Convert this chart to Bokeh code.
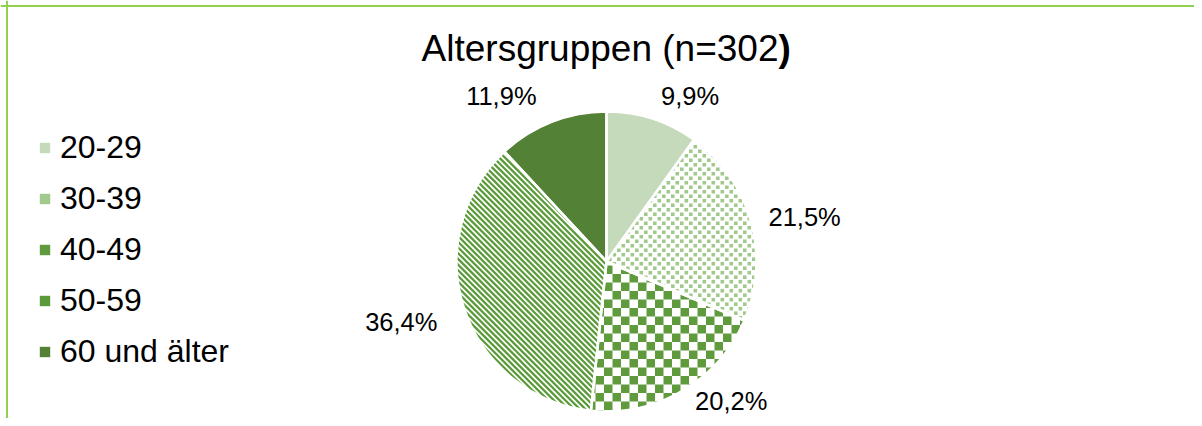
import math
from bokeh.plotting import figure
from bokeh.models import Range1d, Legend, LegendItem, Span, ColumnDataSource
from bokeh.core.properties import value
from bokeh.embed import file_html
from bokeh.resources import INLINE

# ---- data ----
title_main = "Altersgruppen (n=302"
title_close = ")"
categories = ["20-29", "30-39", "40-49", "50-59", "60 und älter"]
shares = [9.9, 21.5, 20.2, 36.4, 11.9]

# ---- styles / layout ----
W, H = 1194, 418
FONT = "Liberation Sans"
base_fill = ["#C5D9BB", "#FFFFFF", "#FFFFFF", "#FFFFFF", "#538135"]
pattern_kind = [None, "confetti", "checker", "stripes", None]
pattern_color = [None, "#A2C98C", "#5F9A3C", "#5A9A38", None]
label_shift_deg = [-9, -3, 11.4, -2, 11]
label_dist = [185, 203, 187, 214, 196]

cx, cy, R = 606, 157, 150

total = sum(shares)
starts, ends, mids = [], [], []
cum = 0.0
for v in shares:
    a_end = math.pi / 2 - cum / total * 2 * math.pi
    a_start = math.pi / 2 - (cum + v) / total * 2 * math.pi
    starts.append(a_start)
    ends.append(a_end)
    mids.append((a_start + a_end) / 2)
    cum += v


def wedge_poly(a0, a1):
    n = max(8, int((a1 - a0) * 60))
    pts = [(cx, cy)]
    for k in range(n + 1):
        a = a0 + (a1 - a0) * k / n
        pts.append((cx + R * math.cos(a), cy + R * math.sin(a)))
    return pts


def clip(subject, clipper):
    out = list(subject)
    m = len(clipper)
    for i in range(m):
        if not out:
            break
        A, B = clipper[i], clipper[(i + 1) % m]

        def inside(P):
            return (B[0] - A[0]) * (P[1] - A[1]) - (B[1] - A[1]) * (P[0] - A[0]) >= 0

        def inter(P, Q):
            x1, y1 = P
            x2, y2 = Q
            x3, y3 = A
            x4, y4 = B
            den = (x1 - x2) * (y3 - y4) - (y1 - y2) * (x3 - x4)
            t = ((x1 - x3) * (y3 - y4) - (y1 - y3) * (x3 - x4)) / den
            return (x1 + t * (x2 - x1), y1 + t * (y2 - y1))

        inp, out = out, []
        S = inp[-1]
        for E in inp:
            if inside(E):
                if not inside(S):
                    out.append(inter(S, E))
                out.append(E)
            elif inside(S):
                out.append(inter(S, E))
            S = E
    return out


def pattern_shapes(kind, poly):
    xs0 = [p_[0] for p_ in poly]
    ys0 = [p_[1] for p_ in poly]
    x0, x1, y0, y1 = min(xs0), max(xs0), min(ys0), max(ys0)
    shapes = []
    if kind == "confetti":
        t, s = 9.0, 3.6
        i0, i1 = int(math.floor(x0 / t)) - 1, int(math.ceil(x1 / t)) + 1
        j0, j1 = int(math.floor(y0 / t)) - 1, int(math.ceil(y1 / t)) + 1
        for i in range(i0, i1):
            for j in range(j0, j1):
                for ox, oy in ((0, 0), (t / 2, t / 2)):
                    bx, by = i * t + ox, j * t + oy
                    shapes.append([(bx, by), (bx + s, by), (bx + s, by + s), (bx, by + s)])
    elif kind == "checker":
        c = 8.5
        i0, i1 = int(math.floor(x0 / c)) - 1, int(math.ceil(x1 / c)) + 1
        j0, j1 = int(math.floor(y0 / c)) - 1, int(math.ceil(y1 / c)) + 1
        for i in range(i0, i1):
            for j in range(j0, j1):
                if (i + j) % 2 == 0:
                    bx, by = i * c, j * c
                    shapes.append([(bx, by), (bx + c, by), (bx + c, by + c), (bx, by + c)])
    elif kind == "stripes":
        period, band, T = 5.7, 3.2, 600.0
        cmin, cmax = x0 + y0, x1 + y1
        c = math.floor(cmin / period) * period - period
        while c < cmax + period:
            c2 = c + band
            shapes.append([(c / 2 + T, c / 2 - T), (c2 / 2 + T, c2 / 2 - T),
                           (c2 / 2 - T, c2 / 2 + T), (c / 2 - T, c / 2 + T)])
            c += period
    xs, ys = [], []
    for sh in shapes:
        cp = clip(sh, poly)
        if len(cp) >= 3:
            xs.append([q[0] for q in cp])
            ys.append([q[1] for q in cp])
    return xs, ys


src = ColumnDataSource(dict(
    x=[cx] * len(shares), y=[cy] * len(shares),
    start=starts, end=ends, fill=base_fill,
))

p = figure(width=W, height=H, x_range=Range1d(0, W), y_range=Range1d(0, H),
           output_backend="svg", toolbar_location=None, min_border=0,
           x_axis_type=None, y_axis_type=None, outline_line_color=None)
p.grid.visible = False

base_r = p.wedge(x="x", y="y", radius=R, start_angle="start", end_angle="end",
                 direction="anticlock", source=src, fill_color="fill", line_color=None)

legend_renderers = []
for i, kind in enumerate(pattern_kind):
    if kind is None:
        legend_renderers.append((base_r, i))
        continue
    xs, ys = pattern_shapes(kind, wedge_poly(starts[i], ends[i]))
    pr = p.patches(xs=xs, ys=ys, fill_color=pattern_color[i], line_color=None)
    legend_renderers.append((pr, None))

# white separators
p.wedge(x="x", y="y", radius=R, start_angle="start", end_angle="end",
        direction="anticlock", source=src, fill_color=None,
        line_color="white", line_width=2.5)

# labels
lx, ly, lt = [], [], []
for i, v in enumerate(shares):
    a = mids[i] + math.radians(label_shift_deg[i])
    lx.append(cx + label_dist[i] * math.cos(a))
    ly.append(cy + label_dist[i] * math.sin(a))
    lt.append(f"{v:.1f}".replace(".", ",") + "%")
p.text(x=lx, y=ly, text=lt, text_align="center", text_baseline="middle",
       text_font=value(FONT), text_font_size="25.5px", text_color="#000000")

# title (closing parenthesis is bold in the original)
p.text(x=[cx + 172], y=[370], text=[title_main], text_align="right", text_baseline="alphabetic",
       text_font=value(FONT), text_font_size="37px", text_color="#000000")
p.text(x=[cx + 172], y=[370], text=[title_close], text_align="left", text_baseline="alphabetic",
       text_font=value(FONT), text_font_size="37px", text_font_style="bold", text_color="#000000")

items = []
for i, c in enumerate(categories):
    rr, idx = legend_renderers[i]
    if idx is None:
        items.append(LegendItem(label=c, renderers=[rr]))
    else:
        items.append(LegendItem(label=c, renderers=[rr], index=idx))
legend = Legend(items=items, location=(38, 48), orientation="vertical", border_line_color=None,
                background_fill_alpha=0, label_text_font=FONT, label_text_font_size="32px",
                label_text_color="#000000",
                glyph_width=13, glyph_height=13, label_standoff=9, spacing=14,
                padding=0, margin=0, label_height=36)
p.add_layout(legend)

p.add_layout(Span(location=H - 5.5, dimension="width", line_color="#92D050", line_width=2))
p.add_layout(Span(location=6.5, dimension="height", line_color="#92D050", line_width=2))

open("out.html", "w").write(file_html(p, INLINE))
